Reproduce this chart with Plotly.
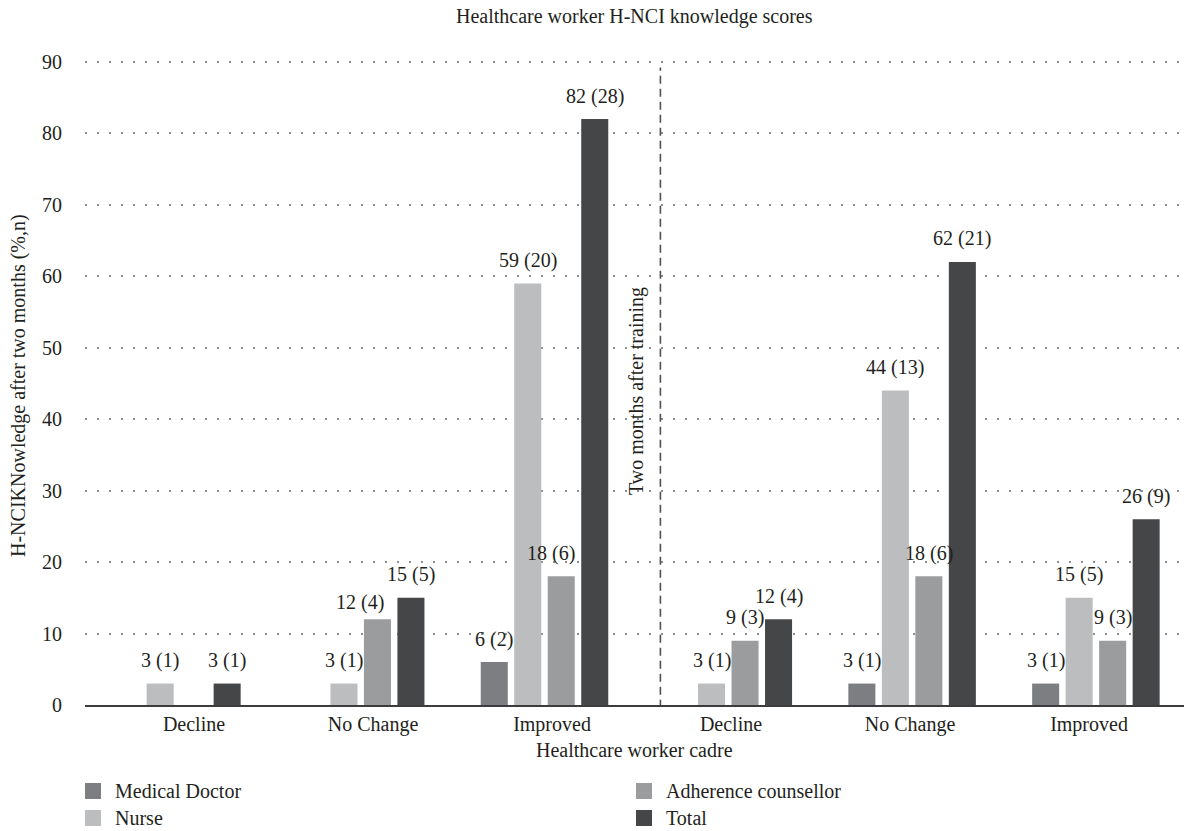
import plotly.graph_objects as go

# ---- data -------------------------------------------------------------
categories = ["Decline", "No Change", "Improved", "Decline", "No Change", "Improved"]

doctor_pct = [0, 0, 6, 0, 3, 3]
doctor_n = [0, 0, 2, 0, 1, 1]
nurse_pct = [3, 3, 59, 3, 44, 15]
nurse_n = [1, 1, 20, 1, 13, 5]
counsellor_pct = [0, 12, 18, 9, 18, 9]
counsellor_n = [0, 4, 6, 3, 6, 3]
total_pct = [3, 15, 82, 12, 62, 26]
total_n = [1, 5, 28, 4, 21, 9]

series = [
    ("Medical Doctor", doctor_pct, doctor_n, "#7d7e81"),
    ("Nurse", nurse_pct, nurse_n, "#bcbdbf"),
    ("Adherence counsellor", counsellor_pct, counsellor_n, "#9b9c9e"),
    ("Total", total_pct, total_n, "#454648"),
]

# ---- geometry / style ------------------------------------------------
W, H = 1184, 831
M_L, M_R, M_T, M_B = 85, 0, 59, 126
PLOT_W = W - M_L - M_R
PLOT_H = H - M_T - M_B
CAT_PX = 183.8                       # pixel width of one bar group
X_MIN = -0.5
X_MAX = X_MIN + PLOT_W / CAT_PX
LABEL_PX = 179.0                     # spacing of the category captions
LABEL_START_PX = 109.0               # first caption centre, from plot left
Y_MAX = 90.4                         # a little headroom so the 90 gridline shows
BARGAP, BARGROUPGAP = 0.271, 0.193
SLOT = (1 - BARGAP) / len(series)

FONT = "Liberation Serif, Times New Roman, serif"
INK = "#231f20"


def px_x(p):
    return (p - M_L) / PLOT_W


def px_y(p):
    return (H - M_B - p) / PLOT_H


xs = list(range(len(categories)))

fig = go.Figure()
for name, vals, counts, color in series:
    fig.add_trace(go.Bar(
        name=name, x=xs, y=vals,
        marker=dict(color=color, line=dict(width=0)),
        showlegend=False,
    ))

# invisible trace carrying the caption axis
fig.add_trace(go.Scatter(
    x=xs, y=[None] * len(xs), xaxis="x2", mode="markers",
    showlegend=False, hoverinfo="skip",
))

# value labels "pct (n)" above each non-empty bar
nudges = {("Adherence counsellor", 1): (-17, -6), ("Adherence counsellor", 2): (-10, 0)}
for i, (name, vals, counts, color) in enumerate(series):
    off = (i - (len(series) - 1) / 2) * SLOT
    for k, (v, n) in enumerate(zip(vals, counts)):
        if v == 0:
            continue
        dx, dy = nudges.get((name, k), (0, 0))
        fig.add_annotation(
            x=k + off, y=v, xref="x", yref="y",
            text=f"{v} ({n})", showarrow=False,
            xanchor="center", yanchor="middle",
            yshift=23 + dy, xshift=dx,
            font=dict(family=FONT, size=20, color=INK),
        )

# divider between baseline and two-month follow-up
fig.add_shape(
    type="line", xref="x", yref="y",
    xsizemode="pixel", xanchor=2.5, x0=24, x1=24,
    y0=-0.4, y1=89.2,
    line=dict(color="#505052", width=1.6, dash="8px,5px"),
)
fig.add_annotation(
    x=2.5, y=44, xref="x", yref="y", text="Two months after training",
    textangle=-90, showarrow=False, xanchor="center", yanchor="middle",
    font=dict(family=FONT, size=20, color=INK),
)

# titles
fig.add_annotation(
    x=0.5, y=px_y(17), xref="paper", yref="paper",
    text="Healthcare worker H-NCI knowledge scores", showarrow=False,
    xanchor="center", yanchor="middle",
    font=dict(family=FONT, size=20, color=INK),
)
fig.add_annotation(
    x=px_x(18), y=px_y(386), xref="paper", yref="paper",
    text="H-NCIKNowledge after two months (%,n)", showarrow=False,
    textangle=-90, xanchor="center", yanchor="middle",
    font=dict(family=FONT, size=20, color=INK),
)
fig.add_annotation(
    x=0.5, y=px_y(750), xref="paper", yref="paper",
    text="Healthcare worker cadre", showarrow=False,
    xanchor="center", yanchor="middle",
    font=dict(family=FONT, size=20, color=INK),
)

# legend (two columns of two entries)
legend_cols = [(85, ["Medical Doctor", "Nurse"]), (636, ["Adherence counsellor", "Total"])]
colors = {s[0]: s[3] for s in series}
for x0, names in legend_cols:
    for r, name in enumerate(names):
        cy = 791 + r * 27
        fig.add_shape(
            type="rect", xref="paper", yref="paper",
            x0=px_x(x0), x1=px_x(x0 + 16), y0=px_y(cy + 8), y1=px_y(cy - 8),
            fillcolor=colors[name], line=dict(width=0),
        )
        fig.add_annotation(
            x=px_x(x0 + 28), y=px_y(cy), xref="paper", yref="paper",
            text=name, showarrow=False, xanchor="left", yanchor="middle",
            font=dict(family=FONT, size=20, color=INK),
        )

cap_min = -LABEL_START_PX / LABEL_PX
cap_max = cap_min + PLOT_W / LABEL_PX

fig.update_layout(
    width=W, height=H,
    margin=dict(l=M_L, r=M_R, t=M_T, b=M_B, pad=0),
    paper_bgcolor="white", plot_bgcolor="white",
    barmode="group", bargap=BARGAP, bargroupgap=BARGROUPGAP,
    font=dict(family=FONT, size=20, color=INK),
    showlegend=False,
    xaxis=dict(
        range=[X_MIN, X_MAX], showticklabels=False,
        showline=True, linecolor="#3c3c3e", linewidth=2,
        showgrid=False, zeroline=False, ticks="",
    ),
    xaxis2=dict(
        overlaying="x", side="bottom", anchor="y",
        range=[cap_min, cap_max], tickvals=xs, ticktext=categories,
        showline=False, showgrid=False, zeroline=False, ticks="",
        ticklabelstandoff=5,
        tickfont=dict(family=FONT, size=20, color=INK),
    ),
    yaxis=dict(
        range=[0, Y_MAX], tickvals=list(range(0, 91, 10)),
        showgrid=True, gridcolor="#8e8e90", gridwidth=1.5, griddash="2px,10px",
        zeroline=False, showline=False, ticks="",
        ticklabelstandoff=22,
        tickfont=dict(family=FONT, size=20, color=INK),
    ),
)

fig.write_html("out.html")
